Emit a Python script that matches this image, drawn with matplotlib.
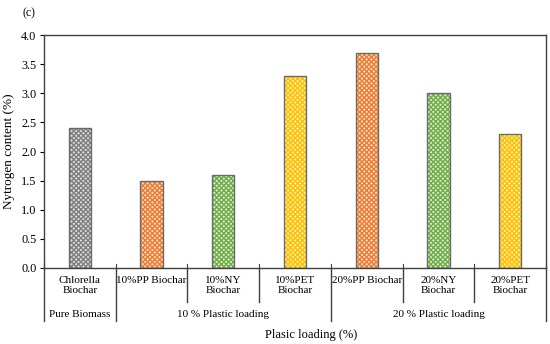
import matplotlib
matplotlib.use("Agg")
import matplotlib.pyplot as plt
from matplotlib.lines import Line2D
import matplotlib.transforms as mtransforms
import matplotlib.colors as mcolors

categories = ["Chlorella\nBiochar", "10%PP Biochar", "10%NY\nBiochar", "10%PET\nBiochar",
              "20%PP Biochar", "20%NY\nBiochar", "20%PET\nBiochar"]
values = [2.4, 1.5, 1.6, 3.3, 3.7, 3.0, 2.3]
groups = ["Pure Biomass", "10 % Plastic loading", "20 % Plastic loading"]
group_sizes = [1, 3, 3]
colors = ["#7f7f7f", "#ED7D31", "#70AD47", "#FFC000", "#ED7D31", "#70AD47", "#FFC000"]

plt.rcParams['font.family'] = ['Liberation Serif', 'DejaVu Serif']
plt.rcParams['hatch.linewidth'] = 1.0


def tint(c, f=0.25):
    r, g, b = mcolors.to_rgb(c)
    return (1 - f + f * r, 1 - f + f * g, 1 - f + f * b)


fig = plt.figure(figsize=(5.5, 3.44), dpi=100)
ax = fig.add_axes([0.08, 0.221, 0.913, 0.677])

x = list(range(len(values)))
for xi, v, c in zip(x, values, colors):
    ax.bar(xi, v, width=0.31, facecolor=tint(c), edgecolor=c, hatch="xxxxxxx", linewidth=0)
    ax.bar(xi, v, width=0.31, fill=False, edgecolor="#6b6b6b", linewidth=1.0)

ax.set_xlim(-0.5, len(values) - 0.5)
ax.set_ylim(0, 4.0)
ax.set_yticks([0, 0.5, 1.0, 1.5, 2.0, 2.5, 3.0, 3.5, 4.0])
ax.set_yticklabels([f"{t:.1f}" for t in ax.get_yticks()], fontsize=8.8)
ax.tick_params(axis='y', direction='out', length=3, width=0.8, pad=2.5)
ax.set_xticks([])
for s in ax.spines.values():
    s.set_color("#404040")
    s.set_linewidth(1.0)

ax.set_ylabel("Nytrogen content (%)", fontsize=9.5, labelpad=4)

trans = mtransforms.blended_transform_factory(ax.transData, ax.transAxes)
# category labels
for xi, lab in zip(x, categories):
    ax.text(xi, -0.035, lab, transform=trans, ha="center", va="top", fontsize=8, linespacing=1.1)

# separators
long_y = -0.228
short_y = -0.146
boundaries = [-0.5]
pos = -0.5
for g in group_sizes:
    pos += g
    boundaries.append(pos)
for b in [i - 0.5 for i in range(len(values) + 1)]:
    ylow = long_y if b in boundaries else short_y
    ax.add_line(Line2D([b, b], [0, ylow], transform=trans, color="#404040", lw=1.0, clip_on=False))
    ax.add_line(Line2D([b, b], [0, 0.015], transform=trans, color="#404040", lw=0.8, clip_on=False))

# group labels
start = -0.5
for g, name in zip(group_sizes, groups):
    center = start + g / 2
    ax.text(center, -0.2, name, transform=trans, ha="center", va="center", fontsize=8)
    start += g

fig.text(0.565, 0.026, "Plasic loading (%)", ha="center", va="center", fontsize=9)
fig.text(0.052, 0.962, "(c)", ha="center", va="center", fontsize=8.5)

fig.savefig("out.png", dpi=100)
